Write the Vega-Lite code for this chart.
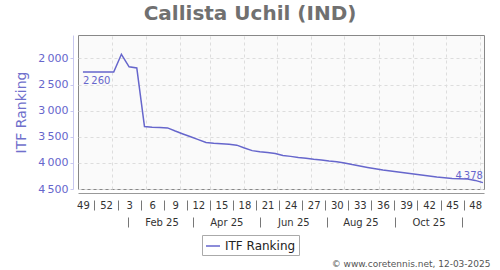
{
  "$schema": "https://vega.github.io/schema/vega-lite/v6.json",
  "autosize": "none",
  "padding": {"left": 78, "top": 35, "right": 16, "bottom": 81},
  "width": 406,
  "height": 154,
  "background": "#ffffff",
  "config": {
    "locale": {"number": {"decimal": ".", "thousands": "\u2009", "grouping": [3], "currency": ["", ""]}},
    "view": {"fill": "#fafafa", "stroke": "#888888", "strokeWidth": 1},
    "font": "DejaVu Sans"
  },
  "title": {
    "text": "Callista Uchil (IND)",
    "anchor": "middle",
    "frame": "group",
    "dx": -31,
    "offset": 11,
    "fontSize": 20,
    "font": "DejaVu Sans",
    "fontWeight": "bold",
    "color": "#707070"
  },
  "data": {
    "values": [
      {"date": "2024-12-02T00:00", "rank": 2260},
      {"date": "2024-12-09T00:00", "rank": 2260},
      {"date": "2024-12-16T00:00", "rank": 2260},
      {"date": "2024-12-23T00:00", "rank": 2260},
      {"date": "2024-12-30T00:00", "rank": 2260},
      {"date": "2025-01-06T00:00", "rank": 1920},
      {"date": "2025-01-13T00:00", "rank": 2160},
      {"date": "2025-01-20T00:00", "rank": 2180},
      {"date": "2025-01-27T00:00", "rank": 3305},
      {"date": "2025-02-03T00:00", "rank": 3315},
      {"date": "2025-02-10T00:00", "rank": 3320},
      {"date": "2025-02-17T00:00", "rank": 3330},
      {"date": "2025-02-24T00:00", "rank": 3390},
      {"date": "2025-03-03T00:00", "rank": 3445},
      {"date": "2025-03-10T00:00", "rank": 3500},
      {"date": "2025-03-17T00:00", "rank": 3555},
      {"date": "2025-03-24T00:00", "rank": 3610},
      {"date": "2025-03-31T00:00", "rank": 3625},
      {"date": "2025-04-07T00:00", "rank": 3635},
      {"date": "2025-04-14T00:00", "rank": 3645},
      {"date": "2025-04-21T00:00", "rank": 3660},
      {"date": "2025-04-28T00:00", "rank": 3715},
      {"date": "2025-05-05T00:00", "rank": 3765},
      {"date": "2025-05-12T00:00", "rank": 3785},
      {"date": "2025-05-19T00:00", "rank": 3800},
      {"date": "2025-05-26T00:00", "rank": 3820},
      {"date": "2025-06-02T00:00", "rank": 3860},
      {"date": "2025-06-09T00:00", "rank": 3875},
      {"date": "2025-06-16T00:00", "rank": 3895},
      {"date": "2025-06-23T00:00", "rank": 3910},
      {"date": "2025-06-30T00:00", "rank": 3930},
      {"date": "2025-07-07T00:00", "rank": 3945},
      {"date": "2025-07-14T00:00", "rank": 3965},
      {"date": "2025-07-21T00:00", "rank": 3980},
      {"date": "2025-07-28T00:00", "rank": 4000},
      {"date": "2025-08-04T00:00", "rank": 4032},
      {"date": "2025-08-11T00:00", "rank": 4060},
      {"date": "2025-08-18T00:00", "rank": 4087},
      {"date": "2025-08-25T00:00", "rank": 4114},
      {"date": "2025-09-01T00:00", "rank": 4138},
      {"date": "2025-09-08T00:00", "rank": 4157},
      {"date": "2025-09-15T00:00", "rank": 4175},
      {"date": "2025-09-22T00:00", "rank": 4194},
      {"date": "2025-09-29T00:00", "rank": 4213},
      {"date": "2025-10-06T00:00", "rank": 4232},
      {"date": "2025-10-13T00:00", "rank": 4250},
      {"date": "2025-10-20T00:00", "rank": 4270},
      {"date": "2025-10-27T00:00", "rank": 4283},
      {"date": "2025-11-03T00:00", "rank": 4298},
      {"date": "2025-11-10T00:00", "rank": 4305},
      {"date": "2025-11-17T00:00", "rank": 4310},
      {"date": "2025-11-24T00:00", "rank": 4335},
      {"date": "2025-12-01T00:00", "rank": 4378}
    ]
  },
  "encoding": {
    "y": {
      "field": "rank",
      "type": "quantitative",
      "scale": {"domain": [1550, 4500], "reverse": true, "nice": false, "zero": false},
      "axis": {
        "values": [2000, 2500, 3000, 3500, 4000, 4500],
        "format": ",d",
        "offset": 5,
        "domainColor": "#c8c8f0",
        "tickColor": "#c8c8f0",
        "tickSize": 3,
        "labelPadding": 2,
        "labelColor": "#6666cc",
        "labelFontSize": 11,
        "labelFont": "DejaVu Sans",
        "title": "ITF Ranking",
        "titleColor": "#7070cc",
        "titleFontSize": 14,
        "titleFont": "DejaVu Sans",
        "titleFontWeight": "normal",
        "titlePadding": 9,
        "grid": true,
        "gridColor": "#dddddd",
        "gridDash": [3, 3]
      }
    }
  },
  "layer": [
    {
      "mark": {"type": "line", "strokeWidth": 1.5, "interpolate": "linear"},
      "encoding": {
        "x": {
          "field": "date",
          "type": "temporal",
          "scale": {"domain": [{"year": 2024, "month": 11, "date": 27, "hours": 12}, {"year": 2025, "month": 12, "date": 2}]},
          "axis": {
            "orient": "bottom",
            "offset": 11,
            "title": null,
            "domain": false,
            "grid": false,
            "values": [
              {"year": 2024, "month": 12, "date": 2},
              {"year": 2024, "month": 12, "date": 23},
              {"year": 2025, "month": 1, "date": 13},
              {"year": 2025, "month": 2, "date": 3},
              {"year": 2025, "month": 2, "date": 24},
              {"year": 2025, "month": 3, "date": 17},
              {"year": 2025, "month": 4, "date": 7},
              {"year": 2025, "month": 4, "date": 28},
              {"year": 2025, "month": 5, "date": 19},
              {"year": 2025, "month": 6, "date": 9},
              {"year": 2025, "month": 6, "date": 30},
              {"year": 2025, "month": 7, "date": 21},
              {"year": 2025, "month": 8, "date": 11},
              {"year": 2025, "month": 9, "date": 1},
              {"year": 2025, "month": 9, "date": 22},
              {"year": 2025, "month": 10, "date": 13},
              {"year": 2025, "month": 11, "date": 3},
              {"year": 2025, "month": 11, "date": 24}
            ],
            "labelExpr": "'' + toNumber(timeFormat(datum.value, '%V'))",
            "labelOverlap": false,
            "labelBound": false,
            "labelFlush": false,
            "labelBaseline": "middle",
            "labelPadding": -4.5,
            "labelOffset": -11.5,
            "labelFontSize": 10,
            "labelColor": "#333333",
            "labelFont": "DejaVu Sans",
            "tickSize": 10,
            "tickOffset": 11.5,
            "tickColor": "#777777",
            "tickOpacity": {"condition": {"test": "time(datum.value) > time(datetime(2025, 10, 20))", "value": 0}, "value": 1}
          }
        },
        "color": {
          "datum": "ITF Ranking",
          "type": "nominal",
          "scale": {"range": ["#6666cc"]},
          "legend": {
            "orient": "none",
            "legendX": 124,
            "legendY": 200,
            "title": null,
            "strokeColor": "#aaaaaa",
            "fillColor": "#ffffff",
            "padding": 3,
            "symbolType": "stroke",
            "symbolSize": 196,
            "symbolStrokeWidth": 1.5,
            "labelFontSize": 12,
            "labelFont": "DejaVu Sans",
            "labelColor": "#222222",
            "labelOffset": 4
          }
        }
      }
    },
    {
      "transform": [{"filter": {"field": "date", "timeUnit": "yearmonthdate", "equal": {"year": 2024, "month": 12, "date": 2}}}],
      "mark": {"type": "text", "align": "left", "baseline": "middle", "dy": 8.5, "fontSize": 10, "font": "DejaVu Sans", "color": "#6666cc"},
      "encoding": {
        "x": {
          "field": "date",
          "type": "temporal",
          "axis": {
            "orient": "bottom",
            "offset": 28,
            "title": null,
            "domain": false,
            "grid": false,
            "values": [
              {"year": 2025, "month": 1, "date": 12},
              {"year": 2025, "month": 3, "date": 12},
              {"year": 2025, "month": 5, "date": 12},
              {"year": 2025, "month": 7, "date": 12},
              {"year": 2025, "month": 9, "date": 12},
              {"year": 2025, "month": 11, "date": 12}
            ],
            "labelExpr": "time(datum.value) > time(datetime(2025, 9, 30)) ? '' : timeFormat(time(datum.value) + 2592000000, '%b %y')",
            "labelOffset": 33.5,
            "labelOverlap": false,
            "labelBound": false,
            "labelFlush": false,
            "labelBaseline": "middle",
            "labelPadding": -4.5,
            "labelFontSize": 10,
            "labelColor": "#333333",
            "labelFont": "DejaVu Sans",
            "tickSize": 10,
            "tickColor": "#777777"
          }
        },
        "text": {"field": "rank", "type": "quantitative", "format": ",d"}
      }
    },
    {
      "transform": [{"filter": {"field": "date", "timeUnit": "yearmonthdate", "equal": {"year": 2025, "month": 12, "date": 1}}}],
      "mark": {"type": "text", "align": "right", "baseline": "middle", "dy": -7, "fontSize": 10, "font": "DejaVu Sans", "color": "#6666cc"},
      "encoding": {
        "x": {
          "field": "date",
          "type": "temporal",
          "axis": {
            "orient": "bottom",
            "offset": 4,
            "domain": true,
            "domainColor": "#999999",
            "ticks": false,
            "labels": false,
            "grid": true,
            "gridColor": "#dddddd",
            "gridDash": [3, 3],
            "values": [
              {"year": 2024, "month": 12, "date": 28},
              {"year": 2025, "month": 1, "date": 28},
              {"year": 2025, "month": 2, "date": 28},
              {"year": 2025, "month": 3, "date": 28},
              {"year": 2025, "month": 4, "date": 28},
              {"year": 2025, "month": 5, "date": 28},
              {"year": 2025, "month": 6, "date": 28},
              {"year": 2025, "month": 7, "date": 28},
              {"year": 2025, "month": 8, "date": 28},
              {"year": 2025, "month": 9, "date": 28},
              {"year": 2025, "month": 10, "date": 28},
              {"year": 2025, "month": 11, "date": 28}
            ],
            "title": "© www.coretennis.net, 12-03-2025",
            "titleX": 412,
            "titleY": 70,
            "titleAlign": "right",
            "titleAnchor": null,
            "titleBaseline": "middle",
            "titleFontSize": 9,
            "titleFontWeight": "normal",
            "titleFont": "DejaVu Sans",
            "titleColor": "#555555"
          }
        },
        "text": {"field": "rank", "type": "quantitative", "format": ",d"}
      }
    }
  ],
  "resolve": {"axis": {"x": "independent"}}
}
